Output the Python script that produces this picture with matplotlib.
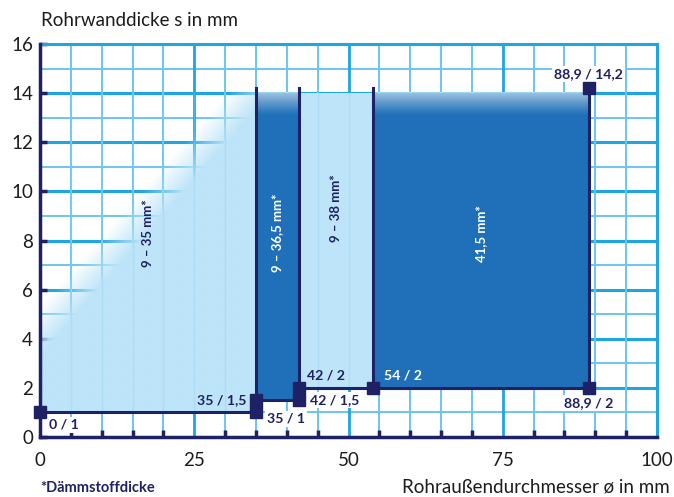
import numpy as np
import matplotlib
matplotlib.use('Agg')
import matplotlib.pyplot as plt

plt.rcParams['font.family'] = ['Lato', 'DejaVu Sans']

# corner points of the range (outer diameter / wall thickness)
diam = [0, 35, 35, 42, 42, 54, 88.9, 88.9]
wall = [1, 1, 1.5, 1.5, 2, 2, 2, 14.2]
point_labels = ['0 / 1', '35 / 1', '35 / 1,5', '42 / 1,5', '42 / 2', '54 / 2', '88,9 / 2', '88,9 / 14,2']

# insulation zones
zone_edges = [0, 35, 42, 54, 88.9]
zone_bottom = [1, 1.5, 2, 2]
zone_top = 14
zone_labels = ['9 – 35 mm*', '9 – 36,5 mm*', '9 – 38 mm*', '41,5 mm*']
zone_dark = [False, True, False, True]

x_ticks = [0, 25, 50, 75, 100]
y_ticks = [0, 2, 4, 6, 8, 10, 12, 14, 16]

navy = '#1e2163'
dark = '#1f70b8'
light = '#bde4f9'
grid_c = '#1ea5e2'
grid_l = '#6cc6ee'
txt = '#1c1c1c'

fig = plt.figure(figsize=(6.74, 4.97), dpi=100)
ax = fig.add_axes([40 / 674, 1 - 437 / 497, 617 / 674, 393 / 497])
ax.set_xlim(0, 100)
ax.set_ylim(0, 16)

# grid
for y in range(1, 17):
    ax.axhline(y, color=grid_c if y % 2 == 0 else grid_l, lw=2.2 if y % 2 == 0 else 1.4, zorder=1)
for x in range(5, 101, 5):
    ax.axvline(x, color=grid_c if x % 25 == 0 else grid_l, lw=2.0 if x % 25 == 0 else 1.4, zorder=1)

# zone fills
for i in range(len(zone_labels)):
    x0, x1 = zone_edges[i], zone_edges[i + 1]
    y0 = zone_bottom[i]
    if i == 0:
        # light zone with diagonal fade towards the upper left
        X, Y = np.meshgrid(np.linspace(x0, x1, 300), np.linspace(y0, zone_top, 300))
        edge = 4.28 + 0.286 * X
        alpha = np.clip((edge - Y) / 2.0 + 0.5, 0, 1)
        img = np.zeros(X.shape + (4,))
        img[..., :3] = matplotlib.colors.to_rgb(light)
        img[..., 3] = alpha
        ax.imshow(img, extent=[x0, x1, y0, zone_top], origin='lower', aspect='auto', zorder=2,
                  interpolation='bilinear')
    else:
        ax.fill_between([x0, x1], y0, zone_top, color=dark if zone_dark[i] else light, lw=0, zorder=2)
        if zone_dark[i]:
            Y = np.linspace(0, 1, 100)[:, None] * np.ones((1, 2))
            img = np.zeros(Y.shape + (4,))
            img[..., :3] = 1
            img[..., 3] = 0.55 * np.clip((Y - 0.93) / 0.07, 0, 1) ** 1.2
            ax.imshow(img, extent=[x0, x1, 1, zone_top], origin='lower', aspect='auto', zorder=2.1,
                      interpolation='bilinear')
    ax.text((x0 + x1) / 2, 8.3 if i != 2 else 9.3, zone_labels[i], rotation=90, ha='center', va='center',
            color='white' if zone_dark[i] else navy, fontsize=9.5, fontweight='bold', zorder=6)

# faint grid seen through the light fills
for x in range(5, 90, 5):
    for i in range(len(zone_labels)):
        if not zone_dark[i] and zone_edges[i] < x < zone_edges[i + 1]:
            ax.plot([x, x], [zone_bottom[i], zone_top], color='#8fd3f3', lw=1, alpha=0.35, zorder=2.5)

# outline and boundaries
ax.plot(diam[:-1], wall[:-1], color=navy, lw=2.2, zorder=4, solid_capstyle='butt')
ax.plot(diam[-2:], wall[-2:], color=navy, lw=2.2, zorder=4)
for x0, y0 in zip(zone_edges[1:4], zone_bottom[:3]):
    ax.plot([x0, x0], [1 if x0 == 35 else y0, max(wall)], color=navy, lw=2.2, zorder=4)
ax.plot(diam, wall, 's', color=navy, ms=9, zorder=8, ls='none', clip_on=False)

# point labels
offsets = [(6.5, -9, 'left'), (8, -4.5, 'left'), (-7, 0, 'right'), (8, 0, 'left'),
           (6, 9, 'left'), (7.5, 9, 'left'), (0, -11, 'center'), (0, 10, 'center')]
for px, py, lab, (dx, dy, ha) in zip(diam, wall, point_labels, offsets):
    white_box = lab in ['0 / 1', '35 / 1', '42 / 1,5', '88,9 / 2', '88,9 / 14,2']
    ax.annotate(lab, (px, py), xytext=(dx, dy), textcoords='offset points', ha=ha, va='center',
                fontsize=10.2, fontweight='bold', color='white' if lab == '54 / 2' else navy, zorder=6,
                bbox=dict(fc='white', ec='none', pad=1.5) if white_box else None)

# axes styling
for s in ['top', 'right']:
    ax.spines[s].set_color(grid_c)
    ax.spines[s].set_linewidth(2.2)
for s in ['left', 'bottom']:
    ax.spines[s].set_color(navy)
    ax.spines[s].set_linewidth(2.5)
    ax.spines[s].set_zorder(7)
ax.set_xticks(x_ticks)
ax.set_xticks(range(5, 100, 5), minor=True)
ax.set_yticks(y_ticks)
ax.tick_params(axis='x', which='both', direction='in', length=5, width=2.5, color=navy, pad=11,
               labelsize=13.5, labelcolor=txt)
ax.tick_params(axis='x', which='major', length=0)
ax.tick_params(axis='y', direction='in', length=5, width=2.5, color=navy, pad=5,
               labelsize=13.5, labelcolor=txt)

fig.text(41 / 674, 1 - 21 / 497, 'Rohrwanddicke s in mm', fontsize=13.5,
         color=txt, va='center', ha='left')
fig.text(670 / 674, 1 - 487 / 497, 'Rohraußendurchmesser ø in mm', fontsize=13.5,
         color=txt, va='center', ha='right')
fig.text(40 / 674, 1 - 488 / 497, '*Dämmstoffdicke', fontsize=10.5, fontweight='bold', color=navy,
         va='center', ha='left')

fig.savefig('out.png', dpi=100)
